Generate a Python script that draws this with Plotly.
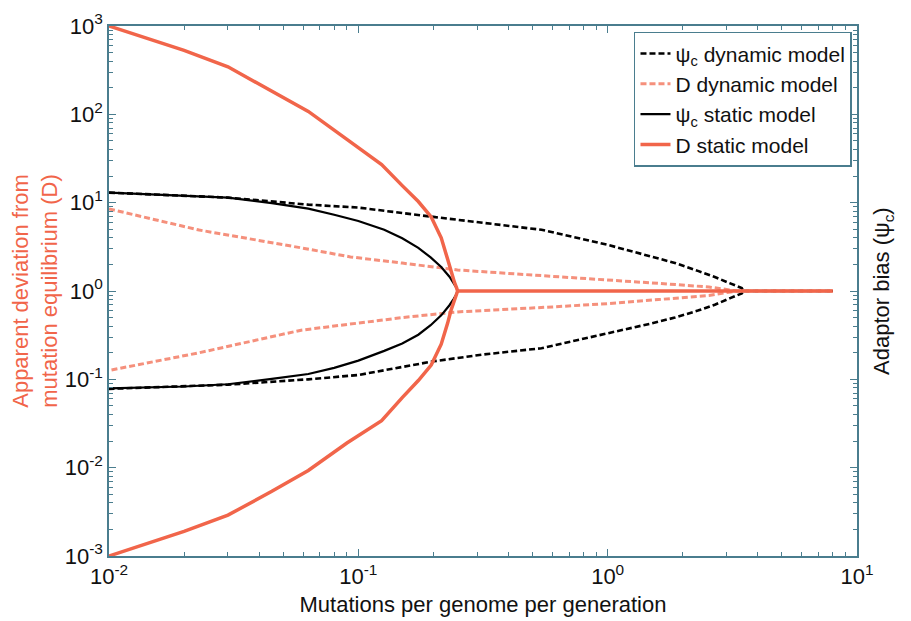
import plotly.graph_objects as go

# ---------------- data ----------------
# D, static model (solid red)
x_D_static = [0.01, 0.02, 0.03, 0.045, 0.063, 0.09, 0.124, 0.15, 0.174, 0.196, 0.215, 0.228, 0.236, 0.243, 0.248, 0.25]
D_static_upper = [1000, 530, 345, 185, 108, 52, 27, 15.6, 10.3, 6.9, 4.0, 2.3, 1.6, 1.25, 1.08, 1.0]
D_static_lower = [0.001, 0.0019, 0.0029, 0.0054, 0.0093, 0.019, 0.034, 0.062, 0.097, 0.145, 0.25, 0.43, 0.62, 0.80, 0.93, 1.0]

# psi_c, static model (solid black)
x_psi_static = [0.01, 0.02, 0.03, 0.045, 0.063, 0.08, 0.1, 0.127, 0.15, 0.174, 0.195, 0.215, 0.232, 0.241, 0.247, 0.25]
psi_static_upper = [13.0, 12.0, 11.4, 9.9, 8.55, 7.3, 6.2, 4.93, 3.95, 3.08, 2.4, 1.87, 1.45, 1.23, 1.1, 1.0]
psi_static_lower = [0.079, 0.083, 0.088, 0.101, 0.115, 0.135, 0.163, 0.21, 0.255, 0.32, 0.41, 0.53, 0.69, 0.81, 0.91, 1.0]

# psi_c, dynamic model (dashed black)
x_psi_dyn = [0.01, 0.03, 0.063, 0.1, 0.2, 0.312, 0.543, 1.0, 1.5, 1.86, 2.3, 2.69, 3.1, 3.45, 3.5]
psi_dyn_upper = [13.0, 11.4, 9.5, 8.8, 6.9, 5.9, 4.93, 3.33, 2.45, 2.08, 1.69, 1.44, 1.22, 1.08, 1.0]
psi_dyn_lower = [0.078, 0.087, 0.10, 0.112, 0.16, 0.19, 0.225, 0.33, 0.43, 0.50, 0.60, 0.70, 0.83, 0.94, 1.0]

# D, dynamic model (dashed red)
x_D_dyn = [0.01, 0.023, 0.059, 0.093, 0.15, 0.25, 0.4, 0.6, 1.0, 1.6, 2.55, 3.0, 3.3]
D_dyn_upper = [8.5, 4.9, 3.08, 2.43, 2.07, 1.73, 1.58, 1.47, 1.33, 1.22, 1.11, 1.04, 1.0]
D_dyn_lower = [0.126, 0.2, 0.36, 0.42, 0.50, 0.58, 0.62, 0.66, 0.72, 0.80, 0.89, 0.96, 1.0]

# common equilibrium line beyond each bifurcation
x_tail_end = 8.0
tail_level = [1.0, 1.0]

x_tickvals = [0.01, 0.1, 1, 10]
x_ticktext = ["10<sup>-2</sup>", "10<sup>-1</sup>", "10<sup>0</sup>", "10<sup>1</sup>"]
y_tickvals = [0.001, 0.01, 0.1, 1, 10, 100, 1000]
y_ticktext = ["10<sup>-3</sup>", "10<sup>-2</sup>", "10<sup>-1</sup>", "10<sup>0</sup>",
              "10<sup>1</sup>", "10<sup>2</sup>", "10<sup>3</sup>"]

RED = "#F1654A"
RED_DASH = "rgba(241,101,74,0.72)"
AX = "#4a7d8e"
FONT = "Liberation Sans, Arial, sans-serif"


def path(x, upper, lower):
    xs = list(x) + list(reversed(x)) + [None, x[-1], x_tail_end]
    ys = list(upper) + list(reversed(lower)) + [None] + tail_level
    return xs, ys


fig = go.Figure()

xs, ys = path(x_psi_dyn, psi_dyn_upper, psi_dyn_lower)
fig.add_trace(go.Scatter(x=xs, y=ys, mode="lines", name="ψ<sub>c</sub> dynamic model",
                         line=dict(color="black", width=2.6, dash="6px,3px")))
xs, ys = path(x_D_dyn, D_dyn_upper, D_dyn_lower)
fig.add_trace(go.Scatter(x=xs, y=ys, mode="lines", name="D dynamic model",
                         line=dict(color=RED_DASH, width=3, dash="6px,3px")))
xs, ys = path(x_psi_static, psi_static_upper, psi_static_lower)
fig.add_trace(go.Scatter(x=xs, y=ys, mode="lines", name="ψ<sub>c</sub> static model",
                         line=dict(color="black", width=2.2)))
xs, ys = path(x_D_static, D_static_upper, D_static_lower)
fig.add_trace(go.Scatter(x=xs, y=ys, mode="lines", name="D static model",
                         line=dict(color=RED, width=3.5)))

x_minor = [m * 10 ** e for e in range(-2, 1) for m in range(2, 10)]
y_minor = [m * 10 ** e for e in range(-3, 3) for m in range(2, 10)]

fig.update_xaxes(type="log", range=[-2, 1], tickmode="array", tickvals=x_tickvals,
                 ticktext=x_ticktext, ticks="inside", ticklen=7, tickcolor=AX,
                 showline=True, linecolor=AX, linewidth=1.5, mirror="ticks",
                 showgrid=False, zeroline=False, automargin=False,
                 minor=dict(tickmode="array", tickvals=x_minor, ticks="inside", ticklen=4,
                            tickcolor=AX, showgrid=False),
                 tickfont=dict(size=22, color="#111"),
                 title=dict(text="Mutations per genome per generation",
                            font=dict(size=22, color="#111"), standoff=8))
fig.update_yaxes(type="log", range=[-3, 3], tickmode="array", tickvals=y_tickvals,
                 ticktext=y_ticktext, ticks="inside", ticklen=7, tickcolor=AX,
                 showline=True, linecolor=AX, linewidth=1.5, mirror="ticks",
                 showgrid=False, zeroline=False, automargin=False,
                 minor=dict(tickmode="array", tickvals=y_minor, ticks="inside", ticklen=4,
                            tickcolor=AX, showgrid=False),
                 tickfont=dict(size=22, color="#111"),
                 title=dict(text="Apparent deviation from<br>mutation equilibrium (D)",
                            font=dict(size=22, color=RED), standoff=2))

fig.add_annotation(text="Adaptor bias (ψ<sub>c</sub>)", xref="paper", yref="paper",
                   x=1, y=0.5, xanchor="left", yanchor="middle", xshift=10,
                   textangle=-90, showarrow=False, font=dict(size=22, color="#111"))

# the page body adds an 8px offset, so the figure is sized to fit the 911x621 window
fig.update_layout(
    width=903, height=613,
    margin=dict(l=101, r=54, t=18, b=65),
    paper_bgcolor="white", plot_bgcolor="white",
    font=dict(family=FONT, size=22, color="#111"),
    showlegend=True,
    legend=dict(x=0.9933, y=0.989, xanchor="right", yanchor="top",
                bgcolor="white", bordercolor=AX, borderwidth=1.5,
                font=dict(size=21, color="#111"), tracegroupgap=0, itemwidth=30),
)

fig.write_html("out.html")
